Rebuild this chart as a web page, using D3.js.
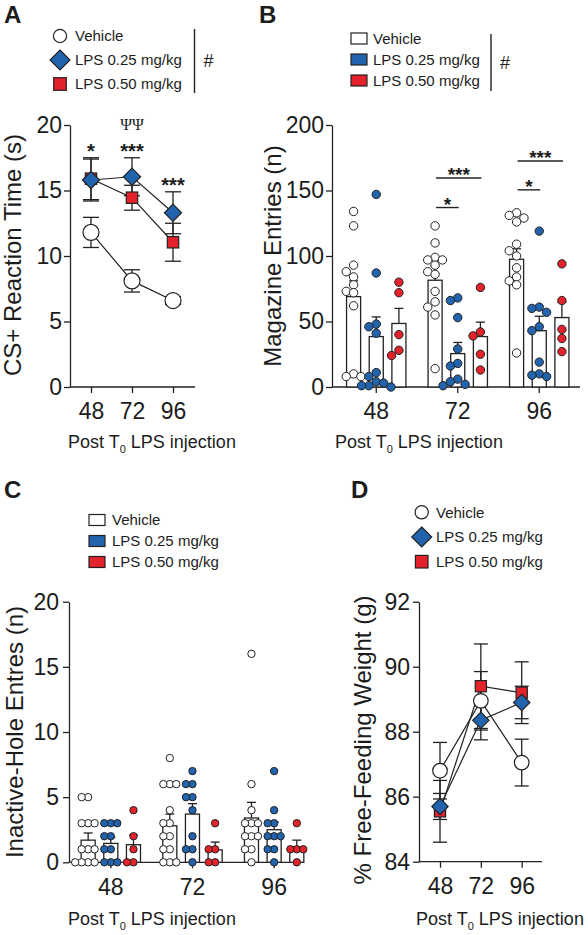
<!DOCTYPE html>
<html><head><meta charset="utf-8">
<script src="https://cdn.jsdelivr.net/npm/d3@7"></script>
<style>
body{margin:0;background:#fff}
svg text{font-family:"Liberation Sans",Arial,Helvetica,sans-serif;fill:#1c1c1c}
</style>
</head><body>
<svg id="fig" width="588" height="935"></svg>
<script>
// ================= DATA =================
const timepoints = [48, 72, 96];
const groupLabels = ["48", "72", "96"];
const seriesNames = ["Vehicle", "LPS 0.25 mg/kg", "LPS 0.50 mg/kg"];

// Panel A: CS+ reaction time (s), mean and SEM
const rtVehicle = [11.8, 8.1, 6.6];
const rtVehicleSem = [1.15, 0.85, 0.3];
const rtLps025 = [15.8, 16.05, 13.3];
const rtLps025Sem = [1.6, 1.45, 1.6];
const rtLps050 = [15.9, 14.45, 11.05];
const rtLps050Sem = [1.6, 0.95, 1.45];

// Panel B: magazine entries (n)
const magVehicle = [69, 81.5, 97.5];
const magVehicleSem = [12, 11, 8];
const magLps025 = [38.5, 25.5, 43];
const magLps025Sem = [15, 8.5, 11];
const magLps050 = [48.5, 38.5, 53];
const magLps050Sem = [11.5, 11, 11.5];
const magVehiclePts48 = [134, 123, 93, 88, 84, 78, 73, 72, 62, 10, 8, 8];
const magVehiclePts72 = [123, 110, 99, 97, 97, 93, 88, 86, 73, 65, 61, 55, 14];
const magVehiclePts96 = [133, 131, 129, 126, 109, 104, 100, 91, 84, 81, 78, 26];
const magLps025Pts48 = [147, 87, 48, 46, 41, 11, 8, 4, 3, 1, 0, 1];
const magLps025Pts72 = [68, 66, 53, 29, 18, 16, 6, 4, 2, 1];
const magLps025Pts96 = [119, 61, 60, 57, 46, 43, 19, 10, 8, 9];
const magLps050Pts48 = [80, 72, 40, 28, 24];
const magLps050Pts72 = [76, 42, 39, 25, 13];
const magLps050Pts96 = [94, 66, 44, 37, 27];

// Panel C: inactive-hole entries (n)
const inVehicle = [1.7, 2.8, 3.4];
const inVehicleSem = [0.55, 0.9, 1.2];
const inLps025 = [1.45, 3.7, 2.5];
const inLps025Sem = [0.45, 0.8, 0.6];
const inLps050 = [1.35, 0.95, 1.2];
const inLps050Sem = [0.75, 0.6, 0.5];
const inVehiclePts48 = [5, 5, 3, 3, 3, 1, 1, 1, 0, 0, 0, 0];
const inVehiclePts72 = [8, 6, 6, 6, 4, 3, 3, 2, 2, 1, 1, 0, 0, 0];
const inVehiclePts96 = [16, 6, 4, 3, 3, 3, 2, 2, 2, 1, 1, 0];
const inLps025Pts48 = [3, 3, 3, 2, 2, 1, 1, 0, 0, 0];
const inLps025Pts72 = [7, 6, 6, 5, 5, 4, 2, 1, 1, 0];
const inLps025Pts96 = [7, 4, 3, 3, 2, 2, 2, 1, 1, 0];
const inLps050Pts48 = [4, 2, 1, 0, 0];
const inLps050Pts72 = [3, 1, 1, 0, 0];
const inLps050Pts96 = [3, 1, 1, 1, 0];

// Panel D: % free-feeding weight
const wtVehicle = [86.8, 88.95, 87.05];
const wtVehicleSem = [0.87, 0.9, 0.72];
const wtLps025 = [85.7, 88.35, 88.9];
const wtLps025Sem = [0.4, 0.6, 0.5];
const wtLps050 = [85.55, 89.4, 89.2];
const wtLps050Sem = [0.95, 1.3, 0.95];

// Tick values
const ticksA = [0, 5, 10, 15, 20];
const ticksB = [0, 50, 100, 150, 200];
const ticksC = [0, 5, 10, 15, 20];
const ticksD = [84, 86, 88, 90, 92];

// Significance annotations
const sigA = [
  {t: 48, level: 17.45, label: "*"},
  {t: 72, level: 17.45, label: "***"},
  {t: 72, level: 19.6, label: "ΨΨ", psi: true},
  {t: 96, level: 14.85, label: "***"}
];
const sigB = [
  {g: "72", from: 0, to: 1, level: 137, label: "*"},
  {g: "72", from: 0, to: 2, level: 159.5, label: "***"},
  {g: "96", from: 0, to: 1, level: 150.5, label: "*"},
  {g: "96", from: 0, to: 2, level: 172.5, label: "***"}
];

// ================= DRAW =================
const svg = d3.select("#fig");
const INK = "#222222";
const BLUE = "#2263ad";
const RED = "#e3222b";
const fills = ["#ffffff", BLUE, RED];
const shapes = ["circle", "diamond", "square"];

function styleAxis(g) {
  g.attr("font-family", null).attr("font-size", null);
  g.select(".domain").attr("stroke", INK).attr("stroke-width", 1.3);
  g.selectAll(".tick line").attr("stroke", INK).attr("stroke-width", 1.3);
  g.selectAll(".tick text").attr("font-size", 23).attr("fill", INK);
}
function yAxis(scale, x, ticks, pad) {
  const g = svg.append("g").attr("transform", `translate(${x},0)`)
    .call(d3.axisLeft(scale).tickValues(ticks).tickSize(6).tickSizeOuter(0).tickPadding(pad));
  styleAxis(g);
}
function xAxis(scale, y, ticks, x0, x1) {
  const ax = d3.axisBottom(scale).tickSize(6).tickSizeOuter(0).tickPadding(10);
  if (ticks) ax.tickValues(ticks);
  const g = svg.append("g").attr("transform", `translate(0,${y})`).call(ax);
  styleAxis(g);
  g.select(".domain").remove();
  g.append("line").attr("x1", x0).attr("x2", x1).attr("y1", 0).attr("y2", 0)
    .attr("stroke", INK).attr("stroke-width", 1.3);
}
function yTitle(text, cy, bx) {
  svg.append("text").attr("transform", `translate(${bx},${cy}) rotate(-90)`)
    .attr("text-anchor", "middle").attr("font-size", 24).text(text);
}
function xTitle(x, y) {
  const t = svg.append("text").attr("x", x).attr("y", y).attr("font-size", 18);
  t.append("tspan").text("Post T");
  t.append("tspan").attr("font-size", 11).attr("dy", 5).text("0");
  t.append("tspan").attr("dy", -5).text(" LPS injection");
}
function panelLabel(l, x, y) {
  svg.append("text").attr("x", x).attr("y", y).attr("font-size", 24)
    .attr("font-weight", "bold").text(l);
}
function marker(g, shape, x, y, size, fill) {
  let m;
  if (shape === "circle") m = g.append("circle").attr("cx", x).attr("cy", y).attr("r", size);
  else if (shape === "diamond") m = g.append("path")
    .attr("d", `M${x},${y - size}L${x + size},${y}L${x},${y + size}L${x - size},${y}Z`);
  else m = g.append("rect").attr("x", x - size).attr("y", y - size).attr("width", 2 * size).attr("height", 2 * size);
  m.attr("fill", fill).attr("stroke", INK).attr("stroke-width", 1.2);
}
function swarm(values, cx, yScale, r) {
  const placed = [];
  const order = values.slice().sort((a, b) => b - a);
  const step = r * 1.75;
  order.forEach(v => {
    const y = yScale(v);
    for (let k = 0; k < 30; k++) {
      const off = k === 0 ? 0 : (k % 2 ? -1 : 1) * Math.ceil(k / 2) * step;
      if (placed.every(p => Math.hypot(p.x - (cx + off), p.y - y) >= r * 1.7)) {
        placed.push({x: cx + off, y}); return;
      }
    }
  });
  return placed;
}
function errBar(g, x, yTop, yBot, half) {
  g.append("line").attr("x1", x).attr("x2", x).attr("y1", yTop).attr("y2", yBot)
    .attr("stroke", INK).attr("stroke-width", 1.3);
  [yTop, yBot].forEach(yy => g.append("line").attr("x1", x - half).attr("x2", x + half)
    .attr("y1", yy).attr("y2", yy).attr("stroke", INK).attr("stroke-width", 1.3));
}
function lineLegend(x, y0, dy, textX) {
  seriesNames.forEach((n, i) => {
    const y = y0 + i * dy;
    marker(svg, shapes[i], x, y, i === 0 ? 6.6 : (i === 1 ? 10 : 6.3), fills[i]);
    svg.append("text").attr("x", textX).attr("y", y).attr("dy", "0.36em").attr("font-size", 15).text(n);
  });
}
function barLegend(x, y0, dy, textX) {
  seriesNames.forEach((n, i) => {
    const y = y0 + i * dy;
    svg.append("rect").attr("x", x).attr("y", y - 5.5).attr("width", 16).attr("height", 11)
      .attr("fill", fills[i]).attr("stroke", INK).attr("stroke-width", 1.2);
    svg.append("text").attr("x", textX).attr("y", y).attr("dy", "0.36em").attr("font-size", 15).text(n);
  });
}
function hashMark(x, yTop, yBot) {
  svg.append("line").attr("x1", x).attr("x2", x).attr("y1", yTop).attr("y2", yBot)
    .attr("stroke", INK).attr("stroke-width", 1.4);
  svg.append("text").attr("x", x + 9).attr("y", (yTop + yBot) / 2).attr("dy", "0.36em")
    .attr("font-size", 18).text("#");
}

// ---------- Panel A ----------
panelLabel("A", 4, 23);
lineLegend(60, 36, 24, 75);
hashMark(194.5, 29, 93);
const xA = d3.scaleLinear().domain([48, 96]).range([91, 173]);
const yA = d3.scaleLinear().domain([0, 20]).range([387, 125]);
yAxis(yA, 70, ticksA, 2);
xAxis(xA, 387, timepoints, 70, 195);
yTitle("CS+ Reaction Time (s)", 255, 21);
xTitle(68, 448);
const seriesA = [
  {mean: rtVehicle, sem: rtVehicleSem, size: 8},
  {mean: rtLps025, sem: rtLps025Sem, size: 8.6},
  {mean: rtLps050, sem: rtLps050Sem, size: 5.7}
];
const gA = svg.append("g");
const lineA = d3.line().x((d, i) => xA(timepoints[i])).y(d => yA(d));
seriesA.forEach(s => gA.append("path").attr("d", lineA(s.mean)).attr("fill", "none")
  .attr("stroke", INK).attr("stroke-width", 1.2));
[2, 0, 1].forEach(k => {
  const s = seriesA[k];
  timepoints.forEach((t, i) => errBar(gA, xA(t), yA(s.mean[i] + s.sem[i]), yA(s.mean[i] - s.sem[i]), 8));
});
[2, 0, 1].forEach(k => {
  const s = seriesA[k];
  timepoints.forEach((t, i) => marker(gA, shapes[k], xA(t), yA(s.mean[i]), s.size, fills[k]));
});
sigA.forEach(a => {
  const t = svg.append("text").attr("x", xA(a.t)).attr("y", yA(a.level)).attr("text-anchor", "middle").text(a.label);
  if (a.psi) t.attr("font-size", 16).style("font-family", '"Liberation Serif","DejaVu Serif",serif');
  else t.attr("font-size", 20).attr("font-weight", "bold");
});

// ---------- Panel B ----------
panelLabel("B", 259, 23);
barLegend(351, 38.5, 21, 373);
hashMark(491, 34, 91);
const xB = d3.scaleBand().domain(groupLabels).range([335.5, 580]);
const subB = d3.scaleBand().domain(seriesNames).range([6.75, 74.75]).paddingInner(0.38).paddingOuter(0.19);
const yB = d3.scaleLinear().domain([0, 200]).range([387, 125]);
yAxis(yB, 332, ticksB, 2);
xAxis(xB, 387, null, 332, 580);
yTitle("Magazine Entries (n)", 256, 281);
xTitle(335, 448);
const barsB = [
  {mean: magVehicle, sem: magVehicleSem, pts: [magVehiclePts48, magVehiclePts72, magVehiclePts96]},
  {mean: magLps025, sem: magLps025Sem, pts: [magLps025Pts48, magLps025Pts72, magLps025Pts96]},
  {mean: magLps050, sem: magLps050Sem, pts: [magLps050Pts48, magLps050Pts72, magLps050Pts96]}
];
function drawBars(series, xs, sub, ys, r) {
  const g = svg.append("g");
  series.forEach((s, k) => {
    groupLabels.forEach((gl, i) => {
      const x = xs(gl) + sub(seriesNames[k]);
      const cx = x + sub.bandwidth() / 2;
      g.append("rect").attr("x", x).attr("y", ys(s.mean[i])).attr("width", sub.bandwidth())
        .attr("height", ys(ys.domain()[0]) - ys(s.mean[i])).attr("fill", "#fff")
        .attr("stroke", INK).attr("stroke-width", 1.3);
      g.append("line").attr("x1", cx).attr("x2", cx).attr("y1", ys(s.mean[i])).attr("y2", ys(s.mean[i] + s.sem[i]))
        .attr("stroke", INK).attr("stroke-width", 1.3);
      g.append("line").attr("x1", cx - 4.5).attr("x2", cx + 4.5)
        .attr("y1", ys(s.mean[i] + s.sem[i])).attr("y2", ys(s.mean[i] + s.sem[i]))
        .attr("stroke", INK).attr("stroke-width", 1.3);
    });
  });
  series.forEach((s, k) => {
    groupLabels.forEach((gl, i) => {
      const cx = xs(gl) + sub(seriesNames[k]) + sub.bandwidth() / 2;
      swarm(s.pts[i], cx, ys, r).forEach(p => g.append("circle").attr("cx", p.x).attr("cy", p.y).attr("r", r)
        .attr("fill", fills[k]).attr("stroke", INK).attr("stroke-width", 1));
    });
  });
}
drawBars(barsB, xB, subB, yB, 4.2);
sigB.forEach(a => {
  const c0 = xB(a.g) + subB(seriesNames[a.from]) + subB.bandwidth() / 2;
  const c1 = xB(a.g) + subB(seriesNames[a.to]) + subB.bandwidth() / 2;
  svg.append("line").attr("x1", c0 + 1).attr("x2", c1 + 1).attr("y1", yB(a.level)).attr("y2", yB(a.level))
    .attr("stroke", INK).attr("stroke-width", 1.4);
  svg.append("text").attr("x", (c0 + c1) / 2 + 1).attr("y", yB(a.level) + 3).attr("text-anchor", "middle")
    .attr("font-size", 19).attr("font-weight", "bold").text(a.label);
});

// ---------- Panel C ----------
panelLabel("C", 4, 498);
barLegend(89, 520, 21, 112);
const xC = d3.scaleBand().domain(groupLabels).range([70, 315]);
const subC = d3.scaleBand().domain(seriesNames).range([6.8, 74.8]).paddingInner(0.38).paddingOuter(0.19);
const yC = d3.scaleLinear().domain([0, 20]).range([862.3, 601.7]);
yAxis(yC, 69, ticksC, 4);
xAxis(xC, 862.3, null, 69, 303);
yTitle("Inactive-Hole Entres (n)", 732, 23);
xTitle(68, 925);
const barsC = [
  {mean: inVehicle, sem: inVehicleSem, pts: [inVehiclePts48, inVehiclePts72, inVehiclePts96]},
  {mean: inLps025, sem: inLps025Sem, pts: [inLps025Pts48, inLps025Pts72, inLps025Pts96]},
  {mean: inLps050, sem: inLps050Sem, pts: [inLps050Pts48, inLps050Pts72, inLps050Pts96]}
];
drawBars(barsC, xC, subC, yC, 3.7);

// ---------- Panel D ----------
panelLabel("D", 351, 498);
lineLegend(421.7, 512.3, 24.7, 436);
const xD = d3.scaleLinear().domain([48, 96]).range([440, 521.7]);
const yD = d3.scaleLinear().domain([84, 92]).range([861.7, 601.7]);
yAxis(yD, 419, ticksD, 3);
xAxis(xD, 861.7, timepoints, 419, 542);
yTitle("% Free-Feeding Weight (g)", 740, 371);
xTitle(416, 925);
const seriesD = [
  {mean: wtVehicle, sem: wtVehicleSem, size: 7.3},
  {mean: wtLps025, sem: wtLps025Sem, size: 8.2},
  {mean: wtLps050, sem: wtLps050Sem, size: 5.6}
];
const gD = svg.append("g");
const lineD = d3.line().x((d, i) => xD(timepoints[i])).y(d => yD(d));
seriesD.forEach(s => gD.append("path").attr("d", lineD(s.mean)).attr("fill", "none")
  .attr("stroke", INK).attr("stroke-width", 1.2));
[2, 0, 1].forEach(k => {
  const s = seriesD[k];
  timepoints.forEach((t, i) => errBar(gD, xD(t), yD(s.mean[i] + s.sem[i]), yD(s.mean[i] - s.sem[i]), 7));
});
[2, 0, 1].forEach(k => {
  const s = seriesD[k];
  timepoints.forEach((t, i) => marker(gD, shapes[k], xD(t), yD(s.mean[i]), s.size, fills[k]));
});
</script>
</body></html>
